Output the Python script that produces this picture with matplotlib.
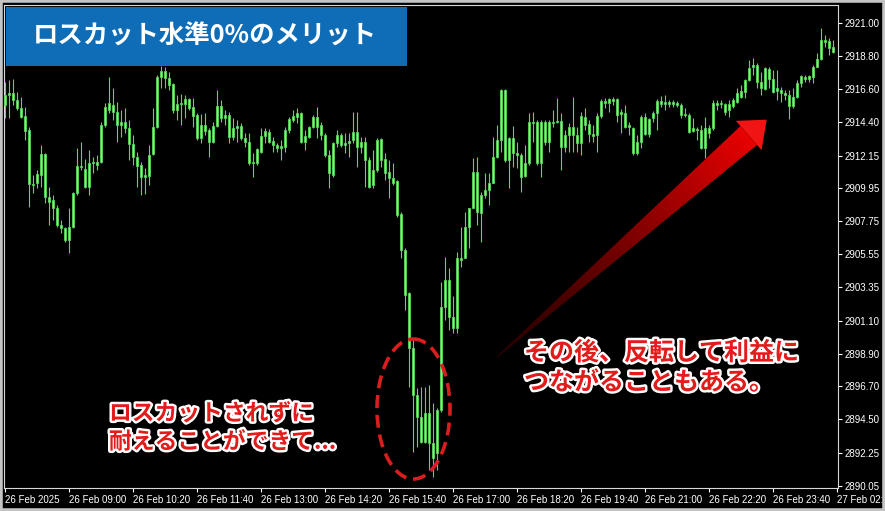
import numpy as np
import matplotlib
matplotlib.use('Agg')
import matplotlib.pyplot as plt
from matplotlib.patches import Rectangle, Ellipse, Polygon
from matplotlib.transforms import Affine2D
import matplotlib.patheffects as pe

# XAUUSD 5分足 (26 Feb 07:40 ~ 27 Feb 01:55)
opens = [
    2915.53, 2916.20, 2916.34, 2915.87, 2915.33, 2914.80, 2913.86, 2910.25, 2910.31, 2910.85,
    2912.25, 2909.38, 2909.17, 2908.64, 2907.50, 2907.30, 2906.50, 2907.37, 2909.64, 2911.45,
    2911.25, 2910.04, 2911.65, 2911.72, 2911.72, 2914.19, 2915.20, 2915.53, 2915.06, 2914.19,
    2914.39, 2913.99, 2912.92, 2912.05, 2911.52, 2910.71, 2910.78, 2912.25, 2914.06, 2917.41,
    2917.81, 2917.34, 2916.94, 2915.20, 2915.60, 2915.60, 2915.93, 2915.40, 2914.86, 2913.32,
    2914.19, 2913.86, 2913.06, 2914.13, 2915.47, 2914.66, 2914.86, 2913.39, 2913.99, 2914.13,
    2913.32, 2913.06, 2911.65, 2911.65, 2912.39, 2913.46, 2913.73, 2913.12, 2912.86, 2912.65,
    2912.72, 2913.86, 2914.53, 2914.73, 2915.00, 2913.06, 2913.39, 2914.06, 2914.73, 2914.19,
    2913.52, 2912.19, 2910.85, 2912.99, 2913.52, 2912.86, 2912.99, 2913.19, 2913.73, 2912.72,
    2913.06, 2911.85, 2910.18, 2911.18, 2913.26, 2911.92, 2911.05, 2910.65, 2910.45, 2908.24,
    2905.83, 2902.95, 2899.27, 2896.12, 2894.65, 2892.98, 2894.92, 2892.91, 2892.24, 2895.12,
    2902.01, 2903.82, 2901.34, 2900.61, 2905.29, 2905.29, 2907.37, 2908.64, 2911.05, 2908.30,
    2909.51, 2909.84, 2910.31, 2912.05, 2913.19, 2916.54, 2911.85, 2913.32, 2912.32, 2912.19,
    2910.78, 2911.65, 2914.39, 2914.39, 2911.65, 2914.39, 2913.06, 2914.39, 2914.39, 2914.46,
    2912.72, 2913.52, 2914.06, 2913.52, 2912.99, 2914.73, 2914.26, 2913.59, 2913.52, 2914.80,
    2915.80, 2915.67, 2915.93, 2915.93, 2914.93, 2915.00, 2914.06, 2913.99, 2912.32, 2913.06,
    2914.73, 2913.59, 2914.66, 2915.00, 2915.80, 2915.60, 2915.73, 2915.60, 2915.67, 2915.53,
    2914.86, 2914.86, 2913.79, 2913.86, 2913.86, 2912.65, 2913.99, 2913.99, 2915.67, 2915.60,
    2915.60, 2915.20, 2915.47, 2915.73, 2916.07, 2916.40, 2917.21, 2918.08, 2918.21, 2917.07,
    2916.60, 2917.94, 2917.27, 2916.47, 2916.54, 2916.34, 2916.20, 2915.47, 2916.07, 2917.00,
    2917.41, 2917.27, 2917.41, 2918.08, 2918.61, 2919.88, 2919.82, 2919.41,
]
highs = [
    2917.07, 2917.21, 2917.27, 2916.40, 2916.07, 2915.40, 2914.06, 2910.85, 2911.18, 2912.86,
    2912.32, 2910.04, 2909.51, 2908.84, 2907.83, 2907.37, 2908.64, 2909.71, 2912.65, 2913.06,
    2911.92, 2912.52, 2912.05, 2912.19, 2914.39, 2915.67, 2917.41, 2916.67, 2915.73, 2915.20,
    2915.33, 2914.53, 2913.52, 2912.39, 2911.72, 2911.32, 2912.86, 2915.33, 2917.54, 2918.14,
    2918.08, 2917.74, 2917.00, 2916.20, 2916.27, 2916.20, 2916.00, 2916.00, 2915.00, 2914.93,
    2915.00, 2913.99, 2914.39, 2916.54, 2915.87, 2915.20, 2915.06, 2914.66, 2914.53, 2914.33,
    2913.66, 2913.66, 2912.32, 2912.65, 2913.99, 2913.99, 2913.93, 2913.39, 2912.99, 2913.19,
    2914.06, 2914.73, 2915.20, 2915.33, 2915.06, 2913.86, 2914.13, 2914.86, 2915.40, 2914.39,
    2913.66, 2912.52, 2913.06, 2913.86, 2913.66, 2913.66, 2913.66, 2915.06, 2915.06, 2913.39,
    2913.39, 2912.05, 2912.52, 2913.32, 2913.32, 2912.32, 2911.85, 2911.65, 2910.51, 2908.37,
    2905.96, 2903.02, 2899.80, 2896.59, 2896.66, 2896.66, 2896.79, 2895.59, 2895.25, 2903.69,
    2905.36, 2904.62, 2902.75, 2905.69, 2907.37, 2908.37, 2908.64, 2911.98, 2912.05, 2909.71,
    2910.98, 2910.98, 2913.39, 2914.19, 2916.60, 2916.60, 2913.39, 2914.13, 2913.06, 2912.32,
    2912.86, 2915.00, 2915.06, 2914.53, 2914.53, 2914.53, 2914.53, 2915.20, 2916.00, 2915.00,
    2913.86, 2914.33, 2916.07, 2914.06, 2915.06, 2915.33, 2914.53, 2914.19, 2915.00, 2915.93,
    2916.00, 2916.00, 2916.07, 2916.00, 2915.26, 2915.53, 2914.39, 2914.06, 2913.52, 2914.86,
    2915.00, 2914.66, 2915.13, 2915.93, 2916.13, 2916.20, 2915.87, 2915.87, 2915.80, 2915.67,
    2915.33, 2915.00, 2914.66, 2914.06, 2914.19, 2914.73, 2914.19, 2915.87, 2915.87, 2915.87,
    2915.67, 2915.87, 2916.00, 2916.67, 2916.87, 2917.27, 2918.54, 2918.68, 2918.34, 2917.74,
    2918.08, 2918.08, 2917.88, 2917.88, 2916.74, 2916.54, 2916.54, 2916.67, 2917.21, 2917.54,
    2917.54, 2917.54, 2918.21, 2919.01, 2920.69, 2920.22, 2920.02, 2919.88,
]
lows = [
    2914.66, 2914.66, 2915.53, 2915.20, 2914.66, 2913.19, 2908.71, 2909.64, 2909.98, 2910.04,
    2908.97, 2907.50, 2907.83, 2907.37, 2906.97, 2906.36, 2905.63, 2907.30, 2909.51, 2911.18,
    2909.98, 2909.51, 2910.98, 2911.18, 2911.65, 2914.06, 2915.00, 2914.53, 2913.06, 2913.39,
    2913.66, 2911.85, 2911.52, 2910.04, 2909.51, 2909.58, 2910.18, 2912.19, 2913.99, 2916.67,
    2916.67, 2916.54, 2915.00, 2914.53, 2914.19, 2914.66, 2915.20, 2914.06, 2913.19, 2912.99,
    2913.52, 2912.05, 2912.99, 2914.06, 2914.39, 2914.19, 2912.99, 2913.19, 2913.06, 2913.19,
    2912.72, 2911.52, 2910.71, 2911.52, 2912.32, 2912.99, 2912.99, 2912.39, 2912.39, 2911.85,
    2912.39, 2913.66, 2914.39, 2914.33, 2912.99, 2912.52, 2913.32, 2913.99, 2913.32, 2913.19,
    2912.05, 2909.98, 2910.71, 2912.72, 2912.72, 2912.32, 2912.05, 2912.99, 2911.38, 2912.32,
    2910.04, 2909.98, 2909.98, 2911.05, 2911.38, 2910.51, 2909.31, 2910.18, 2908.04, 2905.29,
    2901.81, 2896.66, 2892.31, 2892.64, 2892.91, 2892.91, 2891.10, 2890.63, 2891.10, 2894.98,
    2901.14, 2900.47, 2900.27, 2900.27, 2904.69, 2905.29, 2905.96, 2908.64, 2907.50, 2906.36,
    2909.31, 2908.84, 2910.31, 2911.98, 2912.39, 2911.72, 2909.98, 2911.38, 2911.32, 2909.71,
    2910.71, 2911.52, 2913.06, 2911.52, 2910.71, 2912.86, 2912.39, 2914.06, 2914.33, 2911.18,
    2912.39, 2912.39, 2912.39, 2912.39, 2912.19, 2913.86, 2913.06, 2913.06, 2912.39, 2914.66,
    2915.33, 2915.06, 2915.53, 2914.39, 2913.66, 2913.99, 2913.52, 2912.19, 2912.19, 2912.65,
    2913.52, 2913.39, 2914.39, 2913.86, 2915.40, 2915.20, 2915.40, 2915.40, 2915.40, 2914.66,
    2914.73, 2913.66, 2913.73, 2913.19, 2912.59, 2911.98, 2913.32, 2913.86, 2915.20, 2915.33,
    2914.86, 2914.73, 2915.33, 2915.67, 2916.00, 2916.00, 2917.14, 2917.54, 2916.67, 2916.20,
    2916.54, 2916.67, 2916.34, 2915.87, 2915.73, 2915.87, 2914.60, 2915.33, 2916.00, 2916.74,
    2917.07, 2917.07, 2917.00, 2918.08, 2918.54, 2919.41, 2918.88, 2919.01,
]
closes = [
    2916.20, 2916.34, 2915.87, 2915.33, 2914.73, 2913.79, 2910.25, 2910.18, 2910.91, 2912.25,
    2909.38, 2909.04, 2908.64, 2907.50, 2907.30, 2906.50, 2907.37, 2909.64, 2911.45, 2911.38,
    2910.04, 2911.65, 2911.72, 2911.52, 2914.19, 2915.40, 2915.67, 2915.06, 2914.19, 2914.39,
    2913.99, 2912.92, 2912.05, 2911.45, 2910.71, 2910.85, 2912.19, 2914.06, 2917.41, 2917.81,
    2917.34, 2916.87, 2915.20, 2915.60, 2915.67, 2915.93, 2915.33, 2914.80, 2913.32, 2914.19,
    2913.79, 2913.06, 2914.13, 2915.47, 2914.66, 2914.86, 2913.39, 2913.99, 2914.13, 2913.32,
    2913.06, 2911.65, 2911.72, 2912.59, 2913.46, 2913.79, 2913.06, 2912.86, 2912.65, 2912.79,
    2913.86, 2914.60, 2914.80, 2915.00, 2913.06, 2913.46, 2914.06, 2914.73, 2914.06, 2913.52,
    2912.19, 2910.98, 2912.99, 2913.52, 2912.86, 2912.99, 2913.12, 2913.73, 2912.72, 2913.06,
    2911.85, 2910.04, 2911.18, 2913.19, 2911.85, 2910.98, 2910.65, 2910.31, 2908.17, 2905.83,
    2902.82, 2899.27, 2896.12, 2894.65, 2892.98, 2894.92, 2892.91, 2891.91, 2895.12, 2902.01,
    2903.82, 2901.34, 2900.61, 2905.29, 2905.16, 2907.37, 2908.64, 2911.05, 2908.37, 2909.51,
    2909.84, 2910.31, 2912.05, 2913.19, 2916.54, 2911.85, 2913.32, 2912.32, 2912.19, 2910.71,
    2911.65, 2914.39, 2914.33, 2911.65, 2914.39, 2913.06, 2914.39, 2914.33, 2914.46, 2912.72,
    2913.52, 2914.06, 2913.52, 2912.99, 2914.80, 2914.19, 2913.59, 2913.46, 2914.80, 2915.80,
    2915.67, 2915.93, 2915.80, 2914.86, 2915.06, 2914.06, 2914.19, 2912.32, 2913.06, 2914.73,
    2913.59, 2914.60, 2915.00, 2915.80, 2915.60, 2915.73, 2915.60, 2915.73, 2915.53, 2914.86,
    2914.93, 2913.73, 2913.99, 2913.93, 2912.65, 2913.99, 2913.66, 2915.67, 2915.53, 2915.67,
    2915.06, 2915.60, 2915.87, 2916.34, 2916.47, 2917.21, 2918.01, 2918.21, 2917.07, 2916.67,
    2918.01, 2917.27, 2916.40, 2916.67, 2916.34, 2916.20, 2915.47, 2916.07, 2917.00, 2917.47,
    2917.27, 2917.47, 2918.08, 2918.61, 2919.88, 2919.75, 2919.35, 2919.08,
]

time_labels = ['26 Feb 2025', '26 Feb 09:00', '26 Feb 10:20', '26 Feb 11:40', '26 Feb 13:00',
               '26 Feb 14:20', '26 Feb 15:40', '26 Feb 17:00', '26 Feb 18:20', '26 Feb 19:40',
               '26 Feb 21:00', '26 Feb 22:20', '26 Feb 23:40', '27 Feb 02:00']
price_ticks = [2890.05, 2892.25, 2894.50, 2896.70, 2898.90, 2901.10, 2903.35, 2905.55,
               2907.75, 2909.95, 2912.15, 2914.40, 2916.60, 2918.80, 2921.00]

title = 'ロスカット水準0%のメリット'
note_left = 'ロスカットされずに\n耐えることができて...'
note_right = 'その後、反転して利益に\nつながることもある。'

jp = ['Noto Sans CJK JP', 'DejaVu Sans']
W, H = 885, 511

fig = plt.figure(figsize=(W / 100, H / 100), dpi=100, facecolor='black')
ax = fig.add_axes([4 / W, 23 / H, 834 / W, 483 / H], facecolor='black')

o = np.array(opens); h = np.array(highs); l = np.array(lows); c = np.array(closes)
x = np.arange(len(c))

# ローソク足
ax.vlines(x, l, h, color='#5cd65c', lw=0.8, zorder=2)
body_low = np.minimum(o, c)
body_h = np.maximum(np.abs(c - o), 0.05)
ax.bar(x, body_h, bottom=body_low, width=0.7, color='#8fe88f', edgecolor='#55d455',
       linewidth=0.6, zorder=3)

ax.set_xlim(-0.25, 208.25)
ax.set_ylim(2889.90, 2922.23)

ax.yaxis.tick_right()
ax.set_yticks(price_ticks)
ax.set_yticklabels(['%.2f' % v for v in price_ticks])
ax.set_xticks(np.arange(0, 16 * len(time_labels), 16))
ax.set_xticklabels(time_labels)
for lab in ax.get_xticklabels():
    lab.set_ha('left')
ax.tick_params(colors='white', labelsize=7, length=3, width=0.8, pad=2)
for lab in ax.get_xticklabels() + ax.get_yticklabels():
    lab.set_family(['Liberation Sans', 'DejaVu Sans'])
for s in ax.spines.values():
    s.set_color('#d8d8d8')
    s.set_linewidth(0.8)

# 画像ピクセル座標 (左上原点)
px = Affine2D().scale(1 / W, -1 / H).translate(0, 1) + fig.transFigure

fig.add_artist(Rectangle((0, 0), 1, 1, transform=fig.transFigure, fill=False,
                         edgecolor='#c4c4c4', linewidth=4))

# タイトル
fig.add_artist(Rectangle((6, 7), 401, 59, transform=px, facecolor='#0f6cb6', edgecolor='none'))
fig.text(205, 36, title, transform=px, ha='center', va='center', color='white',
         fontsize=18.3, fontweight='bold', family=jp)

# 点線の楕円
fig.add_artist(Ellipse((413.5, 409), 73, 140, transform=px, fill=False, edgecolor='#d81e1e',
                       linewidth=2.6, linestyle=(0, (3.6, 1.9))))

# 赤い矢印 (グラデーション)
tail = np.array([497.0, 357.0])
base = np.array([748.7, 135.5])
vec = base - tail
u = vec / np.linalg.norm(vec)
nrm = np.array([-u[1], u[0]])
n_seg = 80
for i in range(n_seg):
    t0, t1 = i / n_seg, (i + 1.3) / n_seg
    p0, p1 = tail + vec * t0, tail + vec * min(t1, 1.0)
    w0, w1 = 0.6 + 11.9 * t0, 0.6 + 11.9 * min(t1, 1.0)
    k = t0 ** 1.3
    col = (0.16 + 0.76 * k, 0.0, 0.0)
    quad = [p0 + w0 * nrm, p1 + w1 * nrm, p1 - w1 * nrm, p0 - w0 * nrm]
    fig.add_artist(Polygon(quad, closed=True, transform=px, facecolor=col, edgecolor='none'))
tip = base + 24 * u
fig.add_artist(Polygon([base + 19.5 * nrm, tip, base - 19.5 * nrm], closed=True, transform=px,
                       facecolor='#f01414', edgecolor='none'))

# 注釈テキスト
stroke = [pe.withStroke(linewidth=3.5, foreground='white')]
fig.text(109, 428, note_left, transform=px, ha='left', va='center', color='#e31b1b',
         fontsize=16.4, fontweight='bold', family=jp, linespacing=1.3, path_effects=stroke)
fig.text(524, 368, note_right, transform=px, ha='left', va='center', color='#e31b1b',
         fontsize=18, fontweight='bold', family=jp, linespacing=1.3, path_effects=stroke)

fig.savefig('out.png', dpi=100, facecolor='black')
